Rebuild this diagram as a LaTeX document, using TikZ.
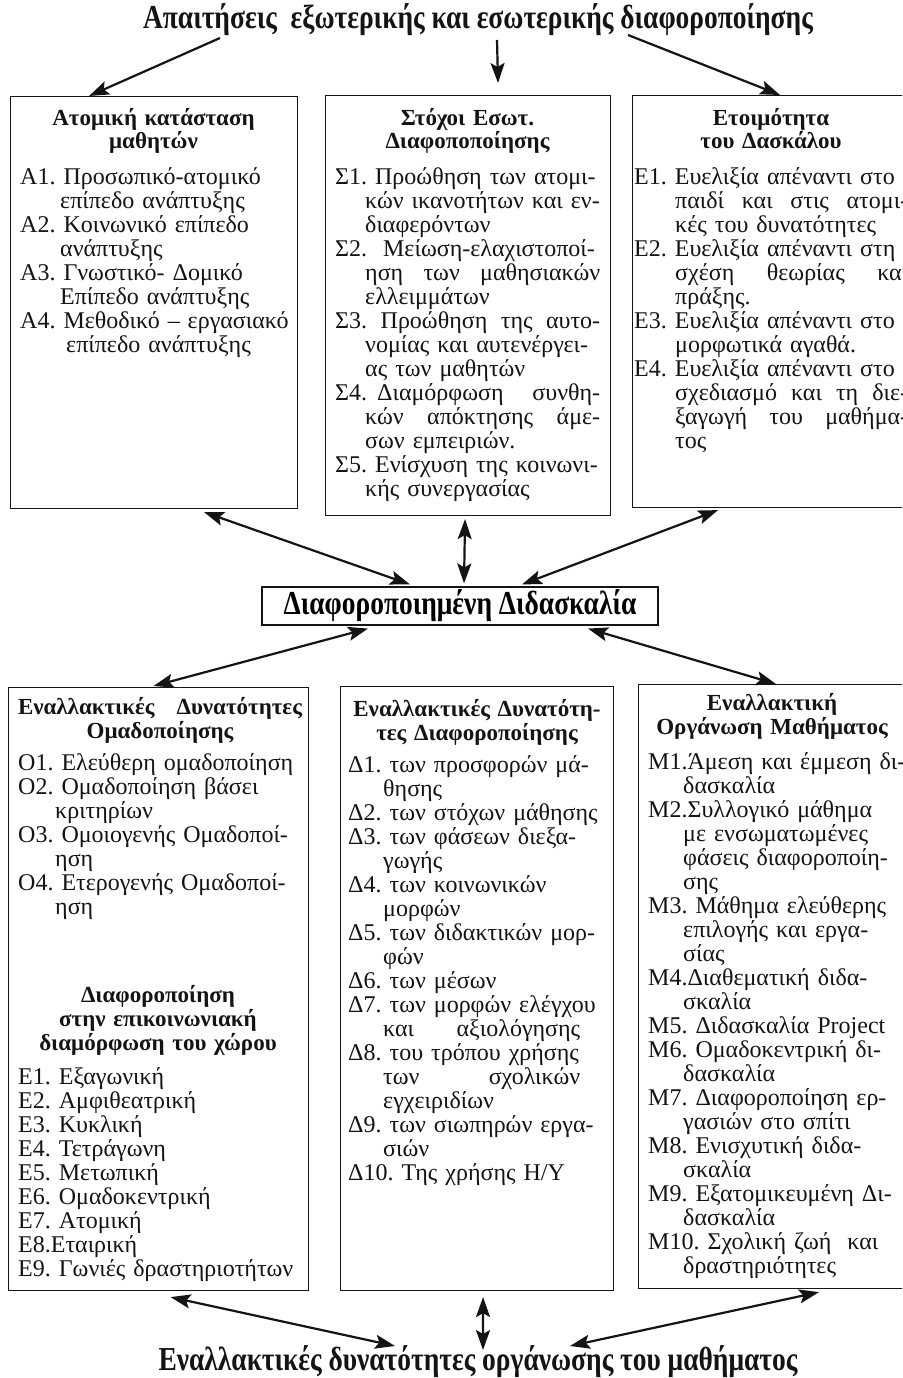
\documentclass[tikz,border=0pt]{standalone}
\usepackage{fontspec}
\setmainfont{Liberation Serif}
\newfontfamily\narrowserif[FakeStretch=0.82]{Liberation Serif}
\usepackage{tikz}
\usetikzlibrary{arrows.meta,calc}
\definecolor{ink}{RGB}{20,20,20}
\hyphenpenalty=10000
\exhyphenpenalty=10000
\frenchspacing
\newlength{\lblw}
\newlength{\jw}
\setlength{\lblw}{38pt}
\setlength{\jw}{230pt}
\newcommand{\bodyfont}{\fontsize{24}{24}\selectfont\lineskiplimit=-100pt}
\newcommand{\headfont}{\bfseries\fontsize{23}{24}\selectfont\lineskiplimit=-100pt}
\newcommand{\titlefont}{\narrowserif\bfseries\fontsize{33.5}{34}\selectfont}
\newcommand{\br}{\newline}
% justified line: spaces stretch to fill the given width
\newcommand{\spread}[2]{\hbox to #1{\spaceskip=0.25em plus 1fil\relax #2}}
\newcommand{\jl}[2][\jw]{\spread{#1}{#2}}
\newcommand{\jf}[1]{\spread{\dimexpr\jw+\lblw\relax}{#1}}
\newcommand{\itm}[1]{\hangindent=\lblw\hangafter=1\noindent #1\par}
\tikzset{
    panelbox/.style={draw=ink, line width=1.1pt, anchor=north west, inner sep=0pt},
    headtext/.style={anchor=base, align=center, font=\headfont, inner sep=0pt, text=ink},
    itemtext/.style={anchor=base west, align=left, font=\bodyfont, inner sep=0pt, text=ink, text width=380pt},
    titletext/.style={font=\titlefont, inner sep=0pt, text=ink},
    mainbox/.style={draw=ink, line width=1.1pt, font=\titlefont, minimum width=396pt, minimum height=38pt, inner sep=0pt},
    onearrow/.style={-{Stealth[length=20pt,width=14pt,inset=4pt]}, line width=2.2pt, draw=ink},
    twoarrow/.style={{Stealth[length=20pt,width=14pt,inset=4pt]}-{Stealth[length=20pt,width=14pt,inset=4pt]}, line width=2.2pt, draw=ink}
}
\begin{document}
\begin{tikzpicture}[x=1pt,y=-1pt]
\useasboundingbox (0,0) rectangle (902,1378);
\fill[white] (0,0) rectangle (902,1378);
\clip (0,0) rectangle (902,1378);

% titles
\node[titletext] (req) at (478,20) {Απαιτήσεις\ \ εξωτερικής και εσωτερικής διαφοροποίησης};
\node[mainbox] (teach) at (460,606) {Διαφοροποιημένη Διδασκαλία};
\node[titletext] (alt) at (478,1362) {Εναλλακτικές δυνατότητες οργάνωσης του μαθήματος};

% upper row
\node[panelbox, minimum width=287pt, minimum height=412pt] (stat) at (10,96) {};
\node[headtext, text width=267pt] (stathead) at (153.5,125) {Ατομική κατάσταση\\μαθητών};
\node[itemtext] (statlist) at (20,184) {\setlength{\lblw}{40pt}%
\itm{Α1. Προσωπικό-ατομικό\br επίπεδο ανάπτυξης}
\itm{Α2. Κοινωνικό επίπεδο\br ανάπτυξης}
\itm{Α3. Γνωστικό- Δομικό\br Επίπεδο ανάπτυξης}
\itm{Α4. Μεθοδικό – εργασιακό\br\hspace*{6pt}επίπεδο ανάπτυξης}};

\node[panelbox, minimum width=285pt, minimum height=420pt] (goal) at (325,95) {};
\node[headtext, text width=265pt] (goalhead) at (467.5,125) {Στόχοι Εσωτ.\\Διαφοποποίησης};
\node[itemtext] (goallist) at (335,184) {\setlength{\lblw}{30pt}\setlength{\jw}{235pt}%
\itm{Σ1. Προώθηση των ατομι-\br κών ικανοτήτων και εν-\br διαφερόντων}
\itm{Σ2.\ \ Μείωση-ελαχιστοποί-\br\jl{ηση των μαθησιακών}\br ελλειμμάτων}
\itm{\jf{Σ3. Προώθηση της αυτο-}\br νομίας και αυτενέργει-\br ας των μαθητών}
\itm{\jf{Σ4.\hspace{10pt}Διαμόρφωση συνθη-}\br\jl{κών απόκτησης άμε-}\br σων εμπειριών.}
\itm{Σ5. Ενίσχυση της κοινωνι-\br κής συνεργασίας}};

\node[panelbox, minimum width=285pt, minimum height=412pt] (ready) at (632,95) {};
\node[headtext, text width=265pt] (readyhead) at (771,125) {Ετοιμότητα\\του Δασκάλου};
\node[itemtext] (readylist) at (634,184) {\setlength{\lblw}{41pt}\setlength{\jw}{233pt}%
\itm{Ε1. Ευελιξία απέναντι στο\br\jl{παιδί και στις ατομι-}\br κές του δυνατότητες}
\itm{Ε2. Ευελιξία απέναντι στη\br\jl{σχέση θεωρίας και}\br πράξης.}
\itm{Ε3. Ευελιξία απέναντι στο\br μορφωτικά αγαθά.}
\itm{Ε4. Ευελιξία απέναντι στο\br\jl{σχεδιασμό και τη διε-}\br\jl{ξαγωγή του μαθήμα-}\br τος}};

% lower row
\node[panelbox, minimum width=300pt, minimum height=603pt] (group) at (8,687) {};
\node[headtext, text width=284pt] (grouphead) at (160,714) {\spread{284pt}{Εναλλακτικές Δυνατότητες}\\Ομαδοποίησης};
\node[itemtext] (grouplist) at (18,770) {\setlength{\lblw}{37pt}%
\itm{Ο1. Ελεύθερη ομαδοποίηση}
\itm{Ο2. Ομαδοποίηση βάσει\br κριτηρίων}
\itm{Ο3. Ομοιογενής Ομαδοποί-\br ηση}
\itm{Ο4. Ετερογενής Ομαδοποί-\br ηση}};
\node[headtext, text width=284pt] (roomhead) at (158,1002) {Διαφοροποίηση\\στην επικοινωνιακή\\διαμόρφωση του χώρου};
\node[itemtext] (roomlist) at (18,1084) {\setlength{\lblw}{37pt}%
\itm{Ε1. Εξαγωνική}
\itm{Ε2. Αμφιθεατρική}
\itm{Ε3. Κυκλική}
\itm{Ε4. Τετράγωνη}
\itm{Ε5. Μετωπική}
\itm{Ε6. Ομαδοκεντρική}
\itm{Ε7. Ατομική}
\itm{Ε8.Εταιρική}
\itm{Ε9. Γωνιές δραστηριοτήτων}};

\node[panelbox, minimum width=273pt, minimum height=604pt] (diff) at (340,686) {};
\node[headtext, text width=259pt] (diffhead) at (477,716) {Εναλλακτικές Δυνατότη-\\τες Διαφοροποίησης};
\node[itemtext] (difflist) at (348,772) {\setlength{\lblw}{35pt}\setlength{\jw}{197pt}%
\itm{Δ1.\hspace{8pt}των προσφορών μά-\br θησης}
\itm{Δ2.\hspace{8pt}των στόχων μάθησης}
\itm{Δ3.\hspace{8pt}των φάσεων διεξα-\br γωγής}
\itm{Δ4.\hspace{8pt}των κοινωνικών\br μορφών}
\itm{Δ5. των διδακτικών μορ-\br φών}
\itm{Δ6.\hspace{8pt}των μέσων}
\itm{Δ7.\hspace{8pt}των μορφών ελέγχου\br\jl{και αξιολόγησης}}
\itm{Δ8. του τρόπου χρήσης\br\jl{των σχολικών}\br εγχειριδίων}
\itm{Δ9. των σιωπηρών εργα-\br σιών}
\itm{Δ10. Της χρήσης Η/Υ}};

\node[panelbox, minimum width=275pt, minimum height=604pt] (org) at (638,684) {};
\node[headtext, text width=259pt] (orghead) at (772,710) {Εναλλακτική\\Οργάνωση Μαθήματος};
\node[itemtext] (orglist) at (648,769) {\setlength{\lblw}{35pt}%
\itm{Μ1.Άμεση και έμμεση δι-\br δασκαλία}
\itm{Μ2.Συλλογικό μάθημα\br με ενσωματωμένες\br φάσεις διαφοροποίη-\br σης}
\itm{Μ3. Μάθημα ελεύθερης\br επιλογής και εργα-\br σίας}
\itm{Μ4.Διαθεματική διδα-\br σκαλία}
\itm{Μ5. Διδασκαλία Project}
\itm{Μ6. Ομαδοκεντρική δι-\br δασκαλία}
\itm{Μ7. Διαφοροποίηση ερ-\br γασιών στο σπίτι}
\itm{Μ8. Ενισχυτική διδα-\br σκαλία}
\itm{Μ9. Εξατομικευμένη Δι-\br δασκαλία}
\itm{Μ10. Σχολική ζωή\ \ και\br δραστηριότητες}};

% arrows
\draw[onearrow] ([shift={(-258,18)}]req.center) -- ([shift={(-65,0)}]stat.north);
\draw[onearrow] ([shift={(19,20)}]req.center) -- ([shift={(30,-12)}]goal.north);
\draw[onearrow] ([shift={(150,15)}]req.center) -- ([shift={(5,0)}]ready.north);

\draw[twoarrow] ([shift={(50,3)}]stat.south) -- ([shift={(-50,-2)}]teach.north);
\draw[twoarrow] ([shift={(-3,3)}]goal.south) -- ([shift={(4,-3)}]teach.north);
\draw[twoarrow] ([shift={(-57,2)}]ready.south) -- ([shift={(62,-2)}]teach.north);
\draw[twoarrow] ([shift={(-92,3)}]teach.south) -- ([shift={(-5,-1)}]group.north);
\draw[twoarrow] ([shift={(128,3)}]teach.south) -- (org.north);

\draw[twoarrow] ([shift={(12,6)}]group.south) -- ([shift={(-83,-16)}]alt.center);
\draw[twoarrow] ([shift={(6,6)}]diff.south) -- ([shift={(5,-12)}]alt.center);
\draw[twoarrow] ([shift={(43,3)}]org.south) -- ([shift={(92,-16)}]alt.center);
\end{tikzpicture}
\end{document}
